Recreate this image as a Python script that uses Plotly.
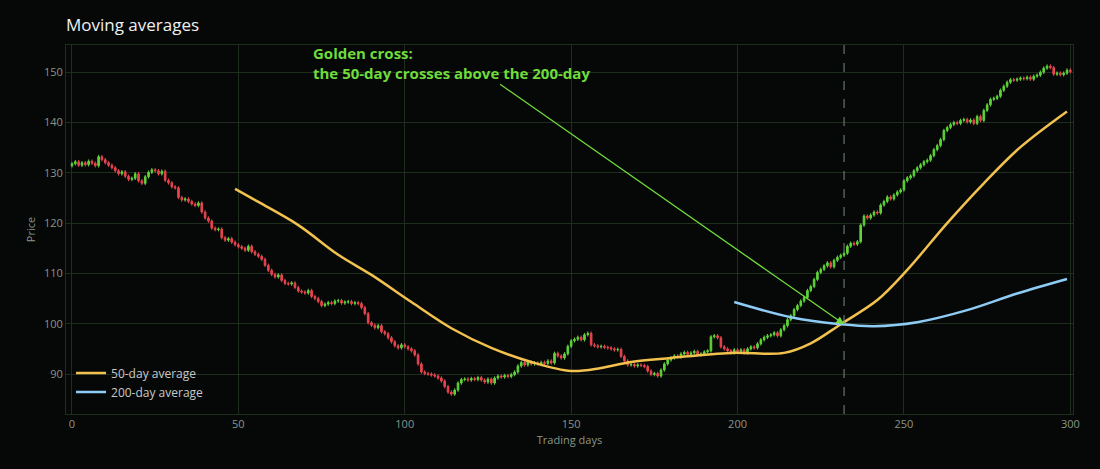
import plotly.graph_objects as go

# daily closes (day 0..300)
CLOSES = [
    131.8, 132.2, 131.5, 132.0, 131.6, 132.3, 131.9, 131.4, 133.2, 132.6,
    132.0, 131.5, 131.0, 130.4, 129.8, 130.2, 129.3, 128.7, 128.9, 129.8,
    128.4, 127.9, 129.2, 130.1, 130.6, 130.4, 129.8, 130.3, 128.5, 128.0,
    127.2, 127.0, 125.1, 124.6, 124.8, 124.3, 123.8, 123.5, 124.0, 122.2,
    121.0, 120.4, 119.0, 118.7, 118.8, 117.1, 116.6, 116.9, 116.2, 115.7,
    115.3, 115.0, 114.6, 115.4, 114.3, 113.8, 113.4, 112.8, 111.6, 110.6,
    109.8, 109.3, 109.7, 108.6, 108.0, 107.9, 108.1, 107.2, 106.5, 106.3,
    106.1, 106.6, 105.4, 105.0, 104.4, 103.6, 103.9, 104.2, 104.0, 104.5,
    104.6, 104.1, 104.3, 104.4, 104.0, 104.2, 104.0, 103.2, 102.0, 100.2,
    99.7, 99.2, 99.6, 98.4, 98.0, 97.2, 96.4, 95.6, 95.2, 95.8,
    95.4, 95.0, 94.6, 93.8, 92.0, 90.4, 90.1, 90.0, 89.8, 89.6,
    89.2, 88.6, 87.5, 86.4, 86.0, 86.8, 88.2, 88.9, 89.0, 88.8,
    89.1, 88.9, 89.3, 88.8, 88.4, 89.0, 88.2, 89.2, 89.6, 89.4,
    89.7, 89.5, 89.9, 90.4, 91.6, 92.3, 91.8, 92.4, 92.0, 92.2,
    92.0, 92.3, 92.1, 92.6, 92.2, 94.1, 93.6, 93.2, 94.0, 95.5,
    96.6, 96.9, 97.3, 96.8, 97.8, 98.1, 95.8, 95.6, 95.4, 95.5,
    95.3, 95.2, 95.0, 94.8, 94.9, 93.5, 92.6, 91.8, 91.9, 91.6,
    91.8, 91.7, 91.5, 90.6, 89.9, 90.1, 89.6, 90.8, 92.0, 92.8,
    93.2, 93.6, 93.4, 94.0, 94.3, 93.9, 94.2, 94.5, 93.8, 94.0,
    94.4, 94.6, 97.4, 97.6, 97.2, 95.4, 95.0, 94.6, 94.2, 94.8,
    94.5, 94.8, 94.2, 95.0, 95.4, 95.2, 96.0, 96.8, 97.3, 97.6,
    97.8, 98.2, 97.6, 98.8, 99.6, 100.8, 101.6, 102.8, 103.6, 104.5,
    105.2, 106.6, 107.4, 108.8, 110.2, 110.8, 111.5, 112.1, 111.3, 112.6,
    113.2, 113.6, 114.0, 115.4, 116.0, 115.8, 116.3, 119.6, 121.4, 121.0,
    121.6, 122.2, 122.0, 123.6, 124.3, 125.2, 124.8, 125.6, 126.2, 126.6,
    128.4, 129.0, 129.4, 130.4, 131.0, 131.6, 132.2, 132.5, 133.4, 134.6,
    135.4, 136.6, 138.4, 139.0, 139.6, 140.0, 139.8, 140.4, 140.6, 140.1,
    140.5, 139.8, 141.2, 140.4, 142.4, 143.5, 144.6, 144.8, 145.2, 146.4,
    147.2, 148.0, 148.5, 148.4, 148.6, 148.8, 148.7, 149.0, 148.6, 149.2,
    149.4, 150.0, 150.8, 151.2, 150.9, 149.6, 149.8, 149.5, 149.8, 150.4,
    150.1,
]
FIRST_OPEN = 131.4
WICK = 0.35

# moving averages, read at a few days
MA50_DAYS = [49, 56, 68, 80, 90, 102, 114, 126, 138, 150, 159, 168, 180, 198,
             214, 222, 231, 242, 251, 263, 274, 285, 299]
MA50_VALS = [126.8, 124.2, 119.6, 113.7, 109.7, 104.3, 99.1, 95.2, 92.4, 90.6,
             91.2, 92.4, 93.2, 94.2, 94.2, 96.1, 99.9, 104.7, 110.7, 120.0,
             127.9, 135.1, 142.2]
MA200_DAYS = [199, 216, 231, 241, 254, 269, 284, 299]
MA200_VALS = [104.3, 101.3, 99.9, 99.5, 100.3, 102.7, 106.0, 108.9]

CROSS_DAY = 232
CROSS_PRICE = 99.9

days = list(range(len(CLOSES)))
opens = [FIRST_OPEN] + CLOSES[:-1]
highs = [max(o, c) + WICK for o, c in zip(opens, CLOSES)]
lows = [min(o, c) - WICK for o, c in zip(opens, CLOSES)]

GRID = "#1e2d1e"
TXT = "#8a968a"

fig = go.Figure()
fig.add_trace(go.Candlestick(
    x=days, open=opens, high=highs, low=lows, close=CLOSES,
    increasing=dict(line=dict(color="#5fd33a", width=1), fillcolor="#5fd33a"),
    decreasing=dict(line=dict(color="#e8454f", width=1), fillcolor="#e8454f"),
    showlegend=False, whiskerwidth=0,
))
fig.add_trace(go.Scatter(x=MA50_DAYS, y=MA50_VALS, mode="lines", name="50-day average",
                         line=dict(color="#f2c14e", width=2.5, shape="spline")))
fig.add_trace(go.Scatter(x=MA200_DAYS, y=MA200_VALS, mode="lines", name="200-day average",
                         line=dict(color="#8ecbf5", width=2.5, shape="spline")))

fig.add_vline(x=CROSS_DAY, line=dict(color="#7a8a7a", width=1, dash="dash"))

fig.add_annotation(x=CROSS_DAY, y=CROSS_PRICE, ax=128.2, ay=147.8, axref="x", ayref="y",
                   text="", showarrow=True, arrowhead=2, arrowsize=1.2, arrowwidth=1.3,
                   arrowcolor="#6fdc3c")
fig.add_annotation(x=0.243, y=1.01, xref="paper", yref="paper", xanchor="left", yanchor="top",
                   text="<b>Golden cross:<br>the 50-day crosses above the 200-day</b>",
                   showarrow=False, align="left", font=dict(color="#6fdc3c", size=15))

fig.update_layout(
    width=1100, height=469,
    paper_bgcolor="#050807", plot_bgcolor="#050807",
    font=dict(family="Open Sans, sans-serif", color=TXT),
    title=dict(text="Moving averages", x=0.06, xanchor="left", y=0.96,
               font=dict(size=17, color="#f0f0f0")),
    margin=dict(l=66, r=27, t=45, b=55),
    legend=dict(x=0.005, y=0.02, xanchor="left", yanchor="bottom",
                bgcolor="rgba(0,0,0,0)", font=dict(size=12, color="#c8c8c8")),
    xaxis=dict(range=[-1.8, 300.8], rangeslider=dict(visible=False), gridcolor=GRID,
               zeroline=False, showline=True, linecolor=GRID, mirror=True,
               tickvals=[0, 50, 100, 150, 200, 250, 300], tickfont=dict(size=11),
               title=dict(text="Trading days", font=dict(size=11), standoff=6)),
    yaxis=dict(range=[82.05, 155.4], gridcolor=GRID, zeroline=False, showline=True,
               linecolor=GRID, mirror=True, tickvals=[90, 100, 110, 120, 130, 140, 150],
               tickfont=dict(size=11), title=dict(text="Price", font=dict(size=11), standoff=6)),
)

fig.write_html("out.html", config={"displayModeBar": False},
               post_script="document.body.style.margin='0';")
